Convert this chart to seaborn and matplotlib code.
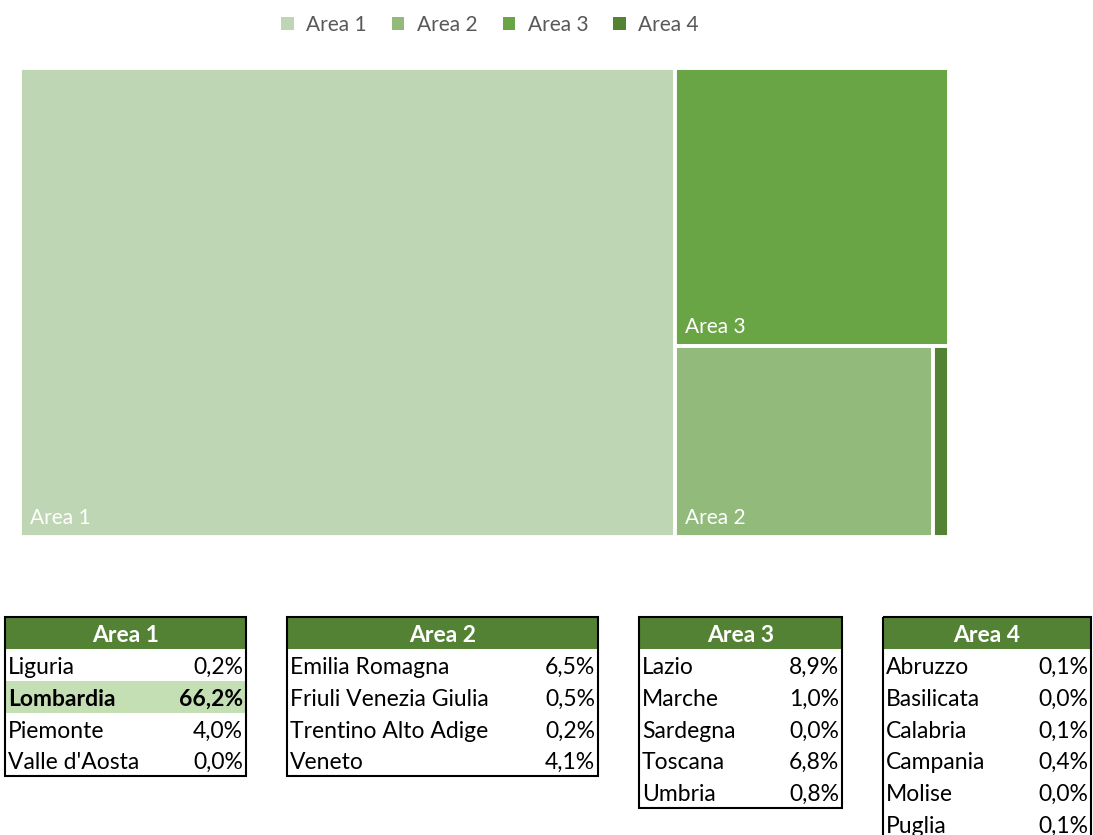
import numpy as np
import pandas as pd
import seaborn as sns
import matplotlib.pyplot as plt
from matplotlib.patches import Rectangle, Patch

# data
areas = ["Area 1", "Area 2", "Area 3", "Area 4"]
area_colors = ["#BED6B3", "#92BB7B", "#69A545", "#548235"]

regions_1 = ["Liguria", "Lombardia", "Piemonte", "Valle d'Aosta"]
share_1 = [0.2, 66.2, 4.0, 0.0]
regions_2 = ["Emilia Romagna", "Friuli Venezia Giulia", "Trentino Alto Adige", "Veneto"]
share_2 = [6.5, 0.5, 0.2, 4.1]
regions_3 = ["Lazio", "Marche", "Sardegna", "Toscana", "Umbria"]
share_3 = [8.9, 1.0, 0.0, 6.8, 0.8]
regions_4 = ["Abruzzo", "Basilicata", "Calabria", "Campania", "Molise", "Puglia"]
share_4 = [0.1, 0.0, 0.1, 0.4, 0.0, 0.1]

tables = [(regions_1, share_1), (regions_2, share_2), (regions_3, share_3), (regions_4, share_4)]
df = pd.DataFrame({"area": areas, "total": [sum(s) for r, s in tables], "color": area_colors})

sns.set_theme(style="white")
plt.rcParams['font.family'] = ['Lato', 'DejaVu Sans']


def worst(row, w):
    s = sum(row)
    return max(max(w * w * r / (s * s), s * s / (w * w * r)) for r in row)


def squarify(values, x, y, dx, dy):
    # values scaled so that sum == dx*dy, sorted descending
    rects = []
    vals = list(values)
    while vals:
        w = min(dx, dy)
        row = [vals[0]]
        i = 1
        while i < len(vals) and worst(row + [vals[i]], w) <= worst(row, w):
            row.append(vals[i])
            i += 1
        vals = vals[i:]
        s = sum(row)
        if dx >= dy:
            rw = s / dy
            yy = y
            for r in row:
                rects.append((x, yy, rw, r / rw))
                yy += r / rw
            x += rw
            dx -= rw
        else:
            rh = s / dx
            xx = x
            for r in row:
                rects.append((xx, y, r / rh, rh))
                xx += r / rh
            y += rh
            dy -= rh
    return rects


fig = plt.figure(figsize=(10.93, 8.35), dpi=100)

# treemap
W, H = 929.0, 469.0
ax = fig.add_axes([20 / 1093, 1 - 537 / 835, W / 1093, H / 835])
order = df.sort_values("total", ascending=False)
scaled = order["total"] / order["total"].sum() * W * H
rects = squarify(scaled.tolist(), 0, 0, W, H)
for (x, y, w, h), (_, rowd) in zip(rects, order.iterrows()):
    ax.add_patch(Rectangle((x, y), w, h, facecolor=rowd["color"], edgecolor="white", linewidth=2.8))
    if w > 60:
        ax.text(x + 10, y + h - 9, rowd["area"], color="white", fontsize=15, ha="left", va="bottom")
ax.set_xlim(0, W)
ax.set_ylim(H, 0)
ax.axis("off")

handles = [Patch(facecolor=c, edgecolor="none") for c in area_colors]
fig.legend(handles, areas, loc="center", bbox_to_anchor=(490 / 1093, 1 - 25 / 835), ncol=4,
           frameon=False, fontsize=15, handlelength=0.6, handleheight=0.6, handletextpad=0.6,
           columnspacing=1.2, labelcolor="#595959")

# tables below
tab = fig.add_axes([0, 0, 1, 1])
tab.set_xlim(0, 1093)
tab.set_ylim(835, 0)
tab.axis("off")

table_x = [(5, 246), (287, 598), (639, 842), (883, 1091)]
top, hdr, pitch = 617, 32, 31.8
fs = 16.5
for (x0, x1), area, (names, vals) in zip(table_x, areas, tables):
    bottom = top + hdr + pitch * len(names)
    tab.add_patch(Rectangle((x0, top), x1 - x0, hdr, facecolor="#548235", edgecolor="none"))
    tab.text((x0 + x1) / 2, top + hdr / 2 + 2, area, color="white", fontsize=fs,
             fontweight="bold", ha="center", va="center")
    for i, (n, v) in enumerate(zip(names, vals)):
        yc = top + hdr + pitch * (i + 0.5)
        bold = v == max(share_1) and area == "Area 1"
        if bold:
            tab.add_patch(Rectangle((x0, yc - pitch / 2), x1 - x0, pitch, facecolor="#C5DFB4", edgecolor="none"))
        fw = "bold" if bold else "normal"
        tab.text(x0 + 3, yc + 2.5, n, fontsize=fs, fontweight=fw, ha="left", va="center", color="black")
        tab.text(x1 - 3, yc + 2.5, f"{v:.1f}%".replace(".", ","), fontsize=fs, fontweight=fw,
                 ha="right", va="center", color="black")
    tab.add_patch(Rectangle((x0, top), x1 - x0, bottom - top, facecolor="none",
                            edgecolor="black", linewidth=1.5, clip_on=False))

fig.savefig("out.png", dpi=100)
